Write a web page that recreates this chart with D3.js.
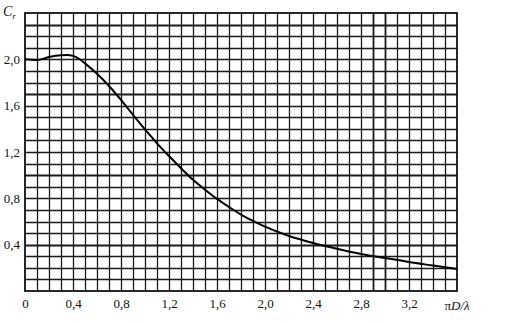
<!DOCTYPE html>
<html>
<head>
<meta charset="utf-8">
<script src="https://cdn.jsdelivr.net/npm/d3@7"></script>
<style>
  body { margin: 0; background: #fff; }
  svg { display: block; }
  text { font-family: "Liberation Serif", "DejaVu Serif", serif; fill: #111; }
</style>
</head>
<body>
<svg width="511" height="324"></svg>
<script>
// curve: x = piD/lambda, y = C_r
var xVals = [0, 0.1, 0.2, 0.3, 0.35, 0.4, 0.45, 0.5, 0.6, 0.7, 0.8, 0.9, 1.0, 1.1, 1.2, 1.3, 1.4, 1.5, 1.6, 1.7, 1.8, 1.9, 2.0, 2.2, 2.4, 2.6, 2.8, 3.0, 3.2, 3.4, 3.6];
var cVals = [2.0, 1.995, 2.02, 2.035, 2.037, 2.03, 2.005, 1.965, 1.875, 1.77, 1.65, 1.52, 1.395, 1.275, 1.165, 1.06, 0.96, 0.875, 0.795, 0.725, 0.66, 0.605, 0.555, 0.475, 0.415, 0.365, 0.32, 0.285, 0.25, 0.22, 0.19];

var xTicks = [0, 0.4, 0.8, 1.2, 1.6, 2.0, 2.4, 2.8, 3.2];
var yTicks = [0.4, 0.8, 1.2, 1.6, 2.0];

var svg = d3.select("svg"),
    margin = {top: 13, right: 54, bottom: 33, left: 25},
    w = +svg.attr("width") - margin.left - margin.right,
    h = +svg.attr("height") - margin.top - margin.bottom,
    g = svg.append("g").attr("transform", "translate(" + margin.left + "," + margin.top + ")");

var x = d3.scaleLinear().domain([0, 3.6]).range([0, w]);
var y = d3.scaleLinear().domain([0, 2.4]).range([h, 0]);

var fmt = function(d) { return d === 0 ? "0" : d3.format(".1f")(d).replace(".", ","); };

// graph paper, one line every 0.1
var gx = d3.range(1, 36).map(function(i) { return i / 10; });
var gy = d3.range(1, 24).map(function(i) { return i / 10; });
var heavyX = [2.9, 3.0], heavyY = [2.3, 1.7, 1.0, 0.4];
var isIn = function(arr, d) { return arr.some(function(v) { return Math.abs(v - d) < 1e-6; }); };

g.selectAll(".vline").data(gx).enter().append("line")
    .attr("x1", function(d) { return Math.round(x(d)) + 0.5; })
    .attr("x2", function(d) { return Math.round(x(d)) + 0.5; })
    .attr("y1", 0).attr("y2", h)
    .attr("stroke", "#1a1a1a")
    .attr("stroke-width", function(d) { return isIn(heavyX, d) ? 1.8 : 1.3; });

g.selectAll(".hline").data(gy).enter().append("line")
    .attr("y1", function(d) { return Math.round(y(d)) + 0.5; })
    .attr("y2", function(d) { return Math.round(y(d)) + 0.5; })
    .attr("x1", 0).attr("x2", w)
    .attr("stroke", "#1a1a1a")
    .attr("stroke-width", function(d) { return isIn(heavyY, d) ? 1.8 : 1.3; });

g.append("rect")
    .attr("width", w).attr("height", h)
    .attr("fill", "none").attr("stroke", "#111").attr("stroke-width", 1.8);

// axes (labels only, the paper is the grid)
var xAxis = g.append("g")
    .attr("transform", "translate(0," + h + ")")
    .call(d3.axisBottom(x).tickValues(xTicks).tickSize(0).tickPadding(8).tickFormat(fmt));
var yAxis = g.append("g")
    .call(d3.axisLeft(y).tickValues(yTicks).tickSize(0).tickPadding(5).tickFormat(fmt));
[xAxis, yAxis].forEach(function(a) {
  a.attr("font-family", "'Liberation Serif', serif").attr("font-size", 13);
  a.select(".domain").remove();
  a.selectAll("text").attr("fill", "#111");
});

// curve
var line = d3.line()
    .x(function(d, i) { return x(xVals[i]); })
    .y(function(d) { return y(d); })
    .curve(d3.curveMonotoneX);

g.append("path")
    .datum(cVals)
    .attr("d", line)
    .attr("fill", "none")
    .attr("stroke", "#000")
    .attr("stroke-width", 2);

// axis titles
var ct = svg.append("text").attr("x", 3).attr("y", 16).style("font-size", "14px").style("font-style", "italic");
ct.append("tspan").text("C");
ct.append("tspan").attr("dy", 3).style("font-size", "9px").text("r");

var lt = svg.append("text")
    .attr("x", margin.left + x(3.6)).attr("y", margin.top + h + 19)
    .attr("text-anchor", "middle")
    .style("font-size", "13px");
lt.append("tspan").text("\u03c0");
lt.append("tspan").style("font-style", "italic").text("D/\u03bb");
</script>
</body>
</html>
